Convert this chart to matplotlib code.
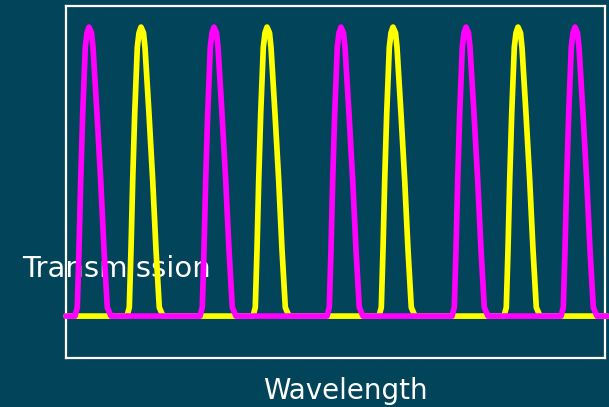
import numpy as np
import matplotlib.pyplot as plt

# peak centres (wavelength, arbitrary units)
magenta_centres = [23, 148, 275, 400, 509]
yellow_centres = [75, 201, 327, 452]

# shape of one transmission peak: offset from centre and height
peak_offsets = [-14, -11.7, -10, -8.3, -6.3, -3.7, -2, 0, 2.5, 4, 8, 11.7, 15, 18.3, 22]
peak_heights = [0, 0.03, 0.23, 0.47, 0.70, 0.93, 0.98, 1.0, 0.98, 0.93, 0.70, 0.47, 0.23, 0.03, 0]

x_start, x_end = 0, 541

bg = '#024459'


def build_curve(centres):
    xs = [x_start]
    ys = [0]
    for c in centres:
        xs += [c + o for o in peak_offsets]
        ys += peak_heights
    xs.append(x_end)
    ys.append(0)
    return xs, ys


fig = plt.figure(figsize=(6.09, 4.07), dpi=100)
fig.patch.set_facecolor(bg)

ax = fig.add_axes([66 / 609, 49 / 407, 539 / 609, 352 / 407])
ax.set_facecolor('none')
ax.set_xlim(0, 539)
ax.set_ylim(-0.145, 1.073)
ax.set_xticks([])
ax.set_yticks([])
for s in ax.spines.values():
    s.set_color('white')
    s.set_linewidth(1.6)

xy, yy = build_curve(yellow_centres)
xm, ym = build_curve(magenta_centres)
ax.plot(xy, yy, color='#FFFF00', lw=4.1, solid_joinstyle='round', solid_capstyle='round', zorder=3, clip_on=False)
ax.plot(xm, ym, color='#FF00FF', lw=4.1, solid_joinstyle='round', solid_capstyle='round', zorder=4, clip_on=False)

# labels sit behind the curves and the frame
fig.text(22 / 609, 1 - 277 / 407, 'Transmission', color='white', fontsize=21,
         family='DejaVu Sans', ha='left', va='baseline', zorder=-1)
fig.text(345.5 / 609, 1 - 399 / 407, 'Wavelength', color='white', fontsize=20,
         family='DejaVu Sans', ha='center', va='baseline', zorder=-1)

fig.savefig('out.png', dpi=100, facecolor=bg)
